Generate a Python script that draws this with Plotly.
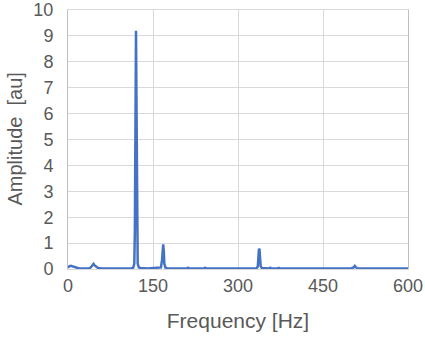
import plotly.graph_objects as go

freq_hz = [0, 2, 5, 8, 11, 14, 20, 30, 38, 41, 43, 45, 47, 50, 53, 60, 80, 100, 112, 115, 117, 118, 119, 120, 121, 122, 123, 125, 128, 140, 160, 164, 166, 167, 168, 169, 170, 172, 175, 190, 210, 212, 214, 240, 242, 244, 280, 290, 300, 333, 335, 336, 337, 338, 339, 340, 342, 345, 355, 357, 359, 370, 372, 374, 420, 480, 500, 504, 506, 508, 510, 515, 560, 600]
amplitude = [0.05, 0.1, 0.12, 0.1, 0.08, 0.03, 0.02, 0.02, 0.03, 0.08, 0.15, 0.2, 0.14, 0.08, 0.04, 0.02, 0.02, 0.02, 0.03, 0.05, 0.2, 1.5, 6.0, 9.2, 6.0, 1.2, 0.2, 0.06, 0.04, 0.02, 0.03, 0.06, 0.35, 0.85, 0.95, 0.7, 0.2, 0.05, 0.03, 0.02, 0.02, 0.05, 0.02, 0.02, 0.05, 0.02, 0.02, 0.03, 0.02, 0.03, 0.1, 0.5, 0.78, 0.75, 0.4, 0.1, 0.04, 0.03, 0.02, 0.05, 0.02, 0.02, 0.04, 0.02, 0.02, 0.02, 0.02, 0.06, 0.12, 0.07, 0.03, 0.02, 0.02, 0.02]

x_ticks = [0, 150, 300, 450, 600]
y_ticks = [0, 1, 2, 3, 4, 5, 6, 7, 8, 9, 10]

fig = go.Figure()
fig.add_trace(go.Scatter(x=freq_hz, y=amplitude, mode="lines",
                         line=dict(color="#4472C4", width=2.5), showlegend=False))

fig.update_layout(
    width=425, height=341,
    margin=dict(l=68, r=17, t=10, b=72),
    paper_bgcolor="white", plot_bgcolor="white",
    font=dict(family="Liberation Sans, Arial, sans-serif", size=18, color="#595959"),
)
fig.update_xaxes(
    range=[0, 600], tickvals=x_ticks, ticktext=[str(v) for v in x_ticks],
    showgrid=True, gridcolor="#d9d9d9", gridwidth=1,
    showline=True, linecolor="#d9d9d9", mirror=True,
    zeroline=False, ticks="", automargin=False,
    title=dict(text="Frequency [Hz]", font=dict(size=21, color="#595959"), standoff=18),
    tickfont=dict(size=18, color="#595959"),
)
fig.update_yaxes(
    range=[0, 10], tickvals=y_ticks,
    showgrid=True, gridcolor="#d9d9d9", gridwidth=1,
    showline=True, linecolor="#bfbfbf", mirror=True,
    zeroline=False, ticks="", automargin=False,
    ticklabelstandoff=10,
    tickfont=dict(size=18, color="#595959"),
)
fig.add_annotation(
    text="Amplitude\u00a0 [au]", textangle=-90,
    xref="paper", yref="paper", x=0, y=0.5, xanchor="center", yanchor="middle",
    xshift=-54, showarrow=False,
    font=dict(size=20, color="#595959"),
)

fig.write_html("out.html", config={"displayModeBar": False},
               post_script="document.body.style.margin='0';document.body.style.overflow='hidden';")
